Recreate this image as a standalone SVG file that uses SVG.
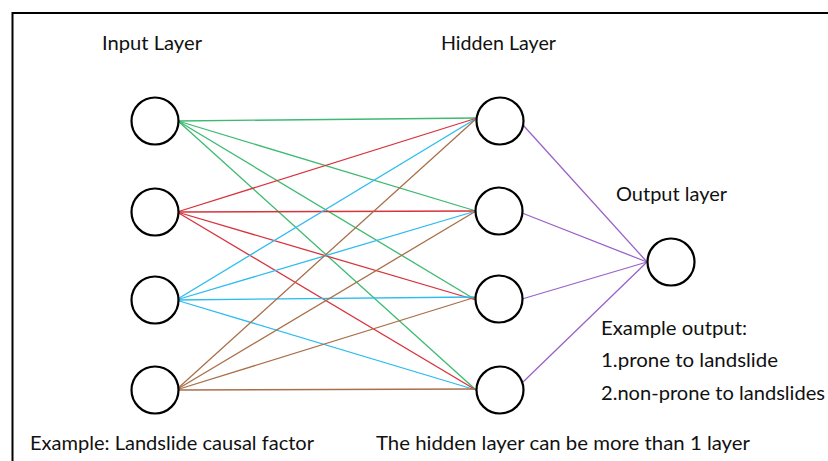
<svg xmlns="http://www.w3.org/2000/svg" width="828" height="461" viewBox="0 0 828 461">
<style>
.n{fill:#fff;stroke:#000;stroke-width:2.2}
.t{font-family:Lato,"Open Sans","Liberation Sans",sans-serif;font-size:20px;fill:#111}
.g{stroke:#3dba6f;stroke-width:1.3}
.r{stroke:#d8323c;stroke-width:1.3}
.b{stroke:#2bbcf0;stroke-width:1.3}
.o{stroke:#a8704a;stroke-width:1.3}
.p{stroke:#9a62c8;stroke-width:1.3}
</style>
<rect width="828" height="461" fill="#fff"/>
<path d="M12.5,461 V13 H828" fill="none" stroke="#000" stroke-width="2"/>
<g id="connectors">
<line class="g" x1="178" y1="121" x2="477" y2="118"/>
<line class="g" x1="178" y1="121" x2="476" y2="211"/>
<line class="g" x1="178" y1="121" x2="476" y2="300"/>
<line class="g" x1="178" y1="121" x2="476" y2="390"/>
<line class="r" x1="177" y1="212" x2="477" y2="118"/>
<line class="r" x1="177" y1="212" x2="476" y2="211"/>
<line class="r" x1="177" y1="212" x2="476" y2="300"/>
<line class="r" x1="177" y1="212" x2="476" y2="390"/>
<line class="b" x1="176" y1="300" x2="477" y2="118"/>
<line class="b" x1="176" y1="300" x2="476" y2="211"/>
<line class="b" x1="176" y1="300" x2="476" y2="297"/>
<line class="b" x1="176" y1="300" x2="476" y2="390"/>
<line class="o" x1="176" y1="390" x2="477" y2="118"/>
<line class="o" x1="176" y1="390" x2="476" y2="211"/>
<line class="o" x1="176" y1="390" x2="476" y2="297"/>
<line class="o" x1="176" y1="390" x2="476" y2="389"/>
<line class="p" x1="523" y1="125" x2="647" y2="262"/>
<line class="p" x1="522" y1="213" x2="647" y2="262"/>
<line class="p" x1="522" y1="299" x2="647" y2="262"/>
<line class="p" x1="523" y1="382" x2="647" y2="262"/>
</g>
<g id="in1"><circle class="n" cx="155" cy="121" r="23.5"/></g>
<g id="in2"><circle class="n" cx="155" cy="212" r="23.5"/></g>
<g id="in3"><circle class="n" cx="155" cy="300" r="23.5"/></g>
<g id="in4"><circle class="n" cx="155" cy="390" r="23.5"/></g>
<g id="h1"><circle class="n" cx="500" cy="121" r="23.5"/></g>
<g id="h2"><circle class="n" cx="499" cy="211" r="23.5"/></g>
<g id="h3"><circle class="n" cx="499" cy="299" r="23.5"/></g>
<g id="h4"><circle class="n" cx="500" cy="390" r="23.5"/></g>
<g id="out"><circle class="n" cx="671" cy="262" r="23.5"/></g>
<g id="labels">
<text class="t" x="102" y="50" textLength="100" lengthAdjust="spacingAndGlyphs">Input Layer</text>
<text class="t" x="441" y="50" textLength="115" lengthAdjust="spacingAndGlyphs">Hidden Layer</text>
<text class="t" x="616" y="201" textLength="111" lengthAdjust="spacingAndGlyphs">Output layer</text>
<text class="t" x="601" y="335" textLength="146" lengthAdjust="spacingAndGlyphs">Example output:</text>
<text class="t" x="601" y="367" textLength="177" lengthAdjust="spacingAndGlyphs">1.prone to landslide</text>
<text class="t" x="601" y="400" textLength="224" lengthAdjust="spacingAndGlyphs">2.non-prone to landslides</text>
<text class="t" x="30" y="450" textLength="284" lengthAdjust="spacingAndGlyphs">Example: Landslide causal factor</text>
<text class="t" x="376" y="450" textLength="374" lengthAdjust="spacingAndGlyphs">The hidden layer can be more than 1 layer</text>
</g>
</svg>
